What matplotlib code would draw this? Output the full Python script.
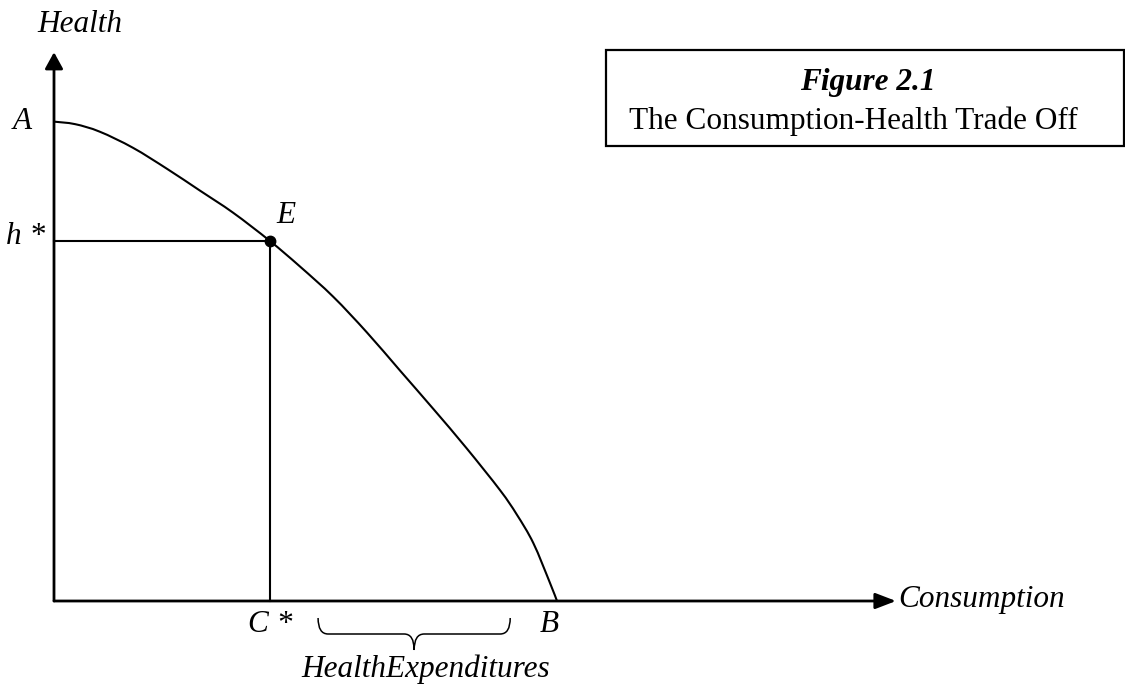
import matplotlib
matplotlib.use("Agg")
import matplotlib.pyplot as plt
from matplotlib.patches import Rectangle, PathPatch
from matplotlib.path import Path
import numpy as np

# ---- data (units: B = 10 on consumption axis) ----
curve_x = [0.00, 0.42, 0.91, 1.57, 2.25, 2.90, 3.56, 4.29, 4.89, 5.55, 6.22,
           6.88, 7.54, 8.20, 8.87, 9.20, 9.53, 9.86, 10.00]
curve_y = [9.53, 9.48, 9.33, 9.01, 8.59, 8.16, 7.72, 7.16, 6.65, 6.05, 5.34,
           4.58, 3.82, 3.04, 2.20, 1.72, 1.15, 0.36, 0.00]
E_point = (4.29, 7.16)
A_value = 9.53
B_value = 10.0
x_axis_end = 16.74
y_axis_end = 10.91
brace_range = (5.25, 9.07)

title_bold = "Figure 2.1"
title_text = "The Consumption-Health Trade Off"
x_label = "Consumption"
y_label = "Health"
brace_label = "HealthExpenditures"

W, H = 1125, 685
fig = plt.figure(figsize=(W / 100, H / 100), dpi=100)
fig.patch.set_facecolor("white")

ox, oy = 54, 601          # pixel of origin
unit = 50.3               # pixels per data unit
ax = fig.add_axes([0, 0, 1, 1])
ax.set_xlim(-ox / unit, (W - ox) / unit)
ax.set_ylim(-(H - oy) / unit, oy / unit)
ax.axis("off")

def d(px):  # pixel offset -> data length
    return px / unit

serif = ["Liberation Serif", "DejaVu Serif"]
fs = 22.5

# axes with arrows
ax.annotate("", xy=(0, y_axis_end), xytext=(0, 0),
            arrowprops=dict(arrowstyle="-|>,head_length=1.0,head_width=0.55",
                            color="black", lw=2, shrinkA=0, shrinkB=0))
ax.annotate("", xy=(x_axis_end, 0), xytext=(0, 0),
            arrowprops=dict(arrowstyle="-|>,head_length=1.25,head_width=0.48",
                            color="black", lw=2, shrinkA=0, shrinkB=0))

# smooth curve (Catmull-Rom through the read points)
P = np.column_stack([curve_x, curve_y])
verts = [tuple(P[0])]
codes = [Path.MOVETO]
for i in range(len(P) - 1):
    p0 = P[i - 1] if i > 0 else P[i]
    p1, p2 = P[i], P[i + 1]
    p3 = P[i + 2] if i + 2 < len(P) else P[i + 1]
    c1 = p1 + (p2 - p0) / 6
    c2 = p2 - (p3 - p1) / 6
    verts += [tuple(c1), tuple(c2), tuple(p2)]
    codes += [Path.CURVE4] * 3
ax.add_patch(PathPatch(Path(verts, codes), fill=False, edgecolor="black",
                       lw=1.5))

# guide lines
ax.plot([0, E_point[0]], [E_point[1], E_point[1]], color="black", lw=1.5)
ax.plot([E_point[0], E_point[0]], [0, E_point[1]], color="black", lw=1.5)
ax.plot([E_point[0]], [E_point[1]], "o", color="black", ms=7.5, zorder=5)

# labels
ax.text(d(-22), A_value, "A", fontsize=fs, family=serif, style="italic",
        ha="right", va="center")
ax.text(d(-9), E_point[1] + d(-3), "h *", fontsize=fs, family=serif,
        style="italic", ha="right", va="baseline")
ax.text(E_point[0] + d(7), E_point[1] + d(18), "E", fontsize=fs,
        family=serif, style="italic", ha="left", va="baseline")
ax.text(E_point[0], d(-31), "C *", fontsize=fs, family=serif,
        style="italic", ha="center", va="baseline")
ax.text(B_value - d(8), d(-31), "B", fontsize=fs, family=serif,
        style="italic", ha="center", va="baseline")
ax.text(x_axis_end + d(2), d(-6), x_label, fontsize=fs, family=serif,
        style="italic", ha="left", va="baseline")
ax.text(d(26), y_axis_end + d(20), y_label, fontsize=fs, family=serif,
        style="italic", ha="center", va="baseline")

# brace under axis between C* and B
bx0, bx1 = brace_range
mid = (bx0 + bx1) / 2
ytop = d(-17)
ybar = d(-33)
ytip = d(-49)
r = d(10)
bverts = [(bx0, ytop), (bx0, ybar), (bx0 + r, ybar),
          (mid - r, ybar), (mid, ybar), (mid, ytip),
          (mid, ybar), (mid + r, ybar),
          (bx1 - r, ybar), (bx1, ybar), (bx1, ytop)]
bcodes = [Path.MOVETO, Path.CURVE3, Path.CURVE3,
          Path.LINETO, Path.CURVE3, Path.CURVE3,
          Path.CURVE3, Path.CURVE3,
          Path.LINETO, Path.CURVE3, Path.CURVE3]
ax.add_patch(PathPatch(Path(bverts, bcodes), fill=False, edgecolor="black",
                       lw=1.1))
ax.text(mid + d(12), d(-76), brace_label, fontsize=fs, family=serif,
        style="italic", ha="center", va="baseline")

# title box
fig.patches.append(Rectangle((606 / W, 1 - 146 / H), (1124 - 606) / W,
                             (146 - 50) / H, transform=fig.transFigure,
                             fill=False, edgecolor="black", lw=1.6))
fig.text(868 / W, 1 - 90 / H, title_bold, fontsize=fs, family=serif,
         style="italic", weight="bold", ha="center", va="baseline")
fig.text(853 / W, 1 - 129 / H, title_text, fontsize=fs, family=serif,
         ha="center", va="baseline")

fig.savefig("out.png", dpi=100, facecolor="white")
